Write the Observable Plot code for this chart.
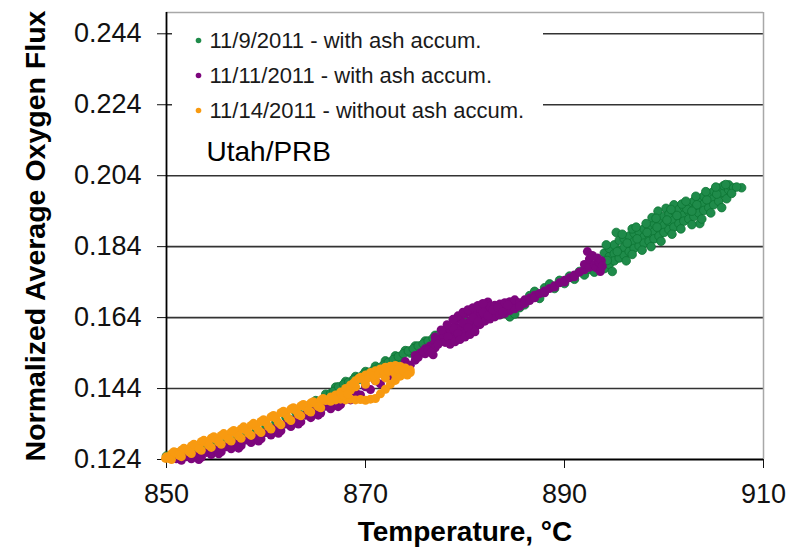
<!DOCTYPE html>
<html>
<head>
<meta charset="utf-8">
<script src="https://cdn.jsdelivr.net/npm/d3@7"></script>
<script src="https://cdn.jsdelivr.net/npm/@observablehq/plot@0.6"></script>
<style>
  html, body { margin: 0; padding: 0; background: #fff; }
  #chart { width: 788px; height: 556px; }
</style>
</head>
<body>
<div id="chart"></div>
<script>
// ---- axis domains and ticks ----
const xDomain = [850, 910];
const yDomain = [0.124, 0.25];
const xTicks = [850, 870, 890, 910];
const yTicks = [0.124, 0.144, 0.164, 0.184, 0.204, 0.224, 0.244];

// ---- series ----
const seriesNames = [
  "11/9/2011 - with ash accum.",
  "11/11/2011 - with ash accum.",
  "11/14/2011 - without ash accum."
];
const seriesColors = ["#1f8b4a", "#7d067d", "#f89a10"];
const noteText = "Utah/PRB";
const xTitle = "Temperature, °C";
const yTitle = "Normalized Average Oxygen Flux";

// [temperature °C, normalized average oxygen flux]
const green = [
[850.0,.1250],[850.5,.1246],[851.0,.1258],[851.5,.1252],[852.0,.1262],[852.5,.1255],[853.0,.1276],[853.5,.1266],[854.0,.1278],[854.5,.1268],
[855.0,.1283],[855.5,.1274],[856.0,.1289],[856.5,.1281],[857.0,.1297],[857.5,.1288],[858.0,.1306],[858.5,.1296],[859.0,.1318],[859.5,.1310],
[860.0,.1332],[860.5,.1323],[861.0,.1345],[861.5,.1336],[862.0,.1360],[862.5,.1352],[863.0,.1373],[863.5,.1366],[864.0,.1390],[864.5,.1384],
[865.0,.1406],[865.5,.1402],[866.0,.1424],[866.5,.1426],[867.0,.1444],[867.5,.1440],[868.0,.1460],[868.5,.1452],[869.0,.1474],[869.5,.1466],
[870.0,.1488],[870.5,.1480],[871.0,.1503],[871.5,.1495],[872.0,.1518],[872.5,.1510],[873.0,.1532],[873.5,.1525],[874.0,.1547],[874.5,.1540],
[875.0,.1560],[875.5,.1553],[876.0,.1574],[876.5,.1566],[877.0,.1590],[877.5,.1582],[878.0,.1602],[878.5,.1597],[879.0,.1614],[879.5,.1608],
[880.0,.1626],[880.5,.1620],[881.0,.1636],[881.5,.1630],[882.0,.1645],[882.5,.1640],[883.0,.1652],[883.5,.1648],[884.0,.1660],[884.5,.1642],
[885.0,.1650],[885.5,.1668],[886.0,.1676],[886.5,.1702],[887.0,.1714],[887.5,.1694],[888.0,.1724],[888.5,.1735],[889.0,.1722],[889.5,.1745],
[890.0,.1736],[890.5,.1757],[891.0,.1748],[891.5,.1770],[892.0,.1760],[892.5,.1776],[893.0,.1768],[893.5,.1790],
[866.8,.1432],[867.3,.1445],[867.8,.1452],[868.3,.1458],[868.8,.1466],[869.3,.1472],[869.8,.1480],[870.3,.1486],[870.8,.1492],[871.3,.1498],
[871.8,.1506],[872.3,.1514],[872.8,.1522],[873.3,.1530],[873.8,.1538],[874.3,.1546],[874.8,.1552],[875.3,.1560],[875.8,.1566],[876.3,.1574],
[876.8,.1582],[877.3,.1590],
[894.0,.1800],[894.0,.1822],[894.0,.1778],[894.5,.1812],[894.5,.1790],[894.5,.1835],[895.0,.1820],[895.0,.1845],[895.0,.1800],[895.2,.1880],
[895.5,.1830],[895.5,.1808],[895.5,.1858],[896.0,.1838],[896.0,.1862],[896.0,.1815],[896.5,.1848],[896.5,.1870],[896.5,.1826],
[897.0,.1855],[897.0,.1835],[897.0,.1878],[897.5,.1860],[897.5,.1882],[897.5,.1842],[898.0,.1868],[898.0,.1890],[898.0,.1850],
[898.5,.1872],[898.5,.1895],[898.5,.1855],[899.0,.1882],[899.0,.1905],[899.0,.1862],[899.4,.1940],[899.5,.1890],[899.5,.1912],[899.5,.1870],
[900.0,.1900],[900.0,.1925],[900.0,.1880],[900.2,.1948],[900.5,.1908],[900.5,.1932],[900.5,.1888],[901.0,.1915],[901.0,.1940],[901.0,.1895],
[901.0,.1958],[901.5,.1922],[901.5,.1945],[901.5,.1905],[902.0,.1930],[902.0,.1952],[902.0,.1912],[902.5,.1938],[902.5,.1960],[902.5,.1918],
[903.0,.1945],[903.0,.1968],[903.0,.1925],[903.5,.1952],[903.5,.1975],[903.6,.1905],[903.5,.1935],[904.0,.1960],[904.0,.1982],[904.0,.1942],
[904.5,.1968],[904.5,.1990],[904.5,.1950],[905.0,.1976],[905.0,.1996],[905.0,.1958],[905.5,.1985],[905.5,.2005],[905.5,.1968],
[906.0,.1992],[906.0,.2012],[906.5,.2000],[906.5,.2014],[907.0,.2006],[907.8,.2006],
[894.3,.1801],[895.3,.1826],[896.3,.1850],[897.3,.1862],[898.3,.1880],[899.3,.1895],[900.3,.1915],[901.3,.1928],[902.3,.1946],
[903.3,.1958],[904.3,.1972],[905.3,.1988],[896.8,.1890],[898.8,.1922],[902.8,.1940],
[894.2,.1845],[894.8,.1770],[895.8,.1875],[896.2,.1800],[896.8,.1818],[897.2,.1895],[897.8,.1830],[898.2,.1905],[898.7,.1840],[899.2,.1920],
[899.7,.1855],[900.7,.1945],[900.8,.1875],[901.8,.1960],[901.7,.1890],[902.2,.1968],[902.8,.1902],[903.2,.1982],[903.8,.1918],[904.2,.1995],
[904.7,.1935],[905.2,.2008],[905.8,.1950],[906.3,.1975],[906.8,.1990],[907.3,.2008],[906.2,.2015]
];

const purple = [
[851.0,.1242],[851.5,.1238],[852.0,.1248],[852.5,.1242],[853.0,.1252],[853.5,.1246],[854.0,.1260],[854.5,.1254],[855.0,.1268],[855.5,.1262],
[856.0,.1276],[856.5,.1270],[857.0,.1285],[857.5,.1279],[858.0,.1295],[858.5,.1288],[859.0,.1305],[859.5,.1298],[860.0,.1316],[860.5,.1309],
[861.0,.1328],[861.5,.1321],[862.0,.1340],[862.5,.1333],[863.0,.1353],[863.5,.1346],[864.0,.1365],[864.5,.1358],[865.0,.1378],[865.5,.1371],
[866.0,.1390],[866.5,.1383],[867.0,.1402],[867.5,.1395],[868.0,.1415],[868.5,.1408],[869.0,.1430],[869.5,.1422],[870.0,.1445],[870.5,.1437],
[871.0,.1462],[871.5,.1453],[872.0,.1480],[872.5,.1470],[873.0,.1498],[873.5,.1490],[874.0,.1516],[874.5,.1506],[875.0,.1533],[875.0,.1520],
[875.5,.1540],[876.0,.1552],[876.0,.1538],[876.5,.1560],[876.8,.1535],[877.0,.1572],[877.0,.1555],[877.0,.1585],[877.5,.1578],
[878.0,.1590],[878.0,.1570],[878.0,.1605],[878.5,.1598],[878.5,.1578],[879.0,.1605],[879.0,.1580],[879.0,.1630],[879.5,.1612],[879.5,.1585],
[879.5,.1640],[880.0,.1622],[880.0,.1595],[880.0,.1650],[880.5,.1630],[880.5,.1600],[880.5,.1655],[881.0,.1638],[881.0,.1612],[881.0,.1660],
[881.5,.1645],[881.5,.1620],[881.5,.1665],[882.0,.1648],[882.0,.1630],[882.0,.1668],[882.3,.1684],[882.5,.1652],[882.5,.1636],[882.5,.1672],
[883.0,.1656],[883.0,.1642],[883.0,.1675],[883.5,.1660],[883.5,.1648],[883.5,.1678],[884.0,.1665],[884.0,.1652],[884.0,.1682],
[884.5,.1670],[884.5,.1660],[884.5,.1685],[885.0,.1677],[885.0,.1665],[885.0,.1690],[885.5,.1682],[885.5,.1672],[886.0,.1690],[886.0,.1680],
[886.5,.1695],[886.5,.1688],[887.0,.1703],[887.0,.1696],[887.5,.1708],[888.0,.1715],[888.0,.1710],[888.5,.1722],[889.0,.1730],[889.0,.1726],
[889.5,.1738],[890.0,.1745],[890.0,.1740],[890.5,.1752],[891.0,.1760],[891.0,.1755],[891.5,.1768],[892.0,.1775],[892.0,.1790],[892.3,.1826],
[892.5,.1782],[892.5,.1805],[892.8,.1815],[893.0,.1790],[893.2,.1780],[893.3,.1808],[893.5,.1795],[893.6,.1770],[893.7,.1800],[893.8,.1785],
[875.3,.1528],[875.8,.1545],[876.3,.1548],[876.6,.1542],[877.3,.1565],[877.8,.1592],[878.3,.1585],[878.8,.1612],[879.3,.1595],[879.8,.1625],
[880.3,.1612],[880.8,.1640],[881.3,.1628],[881.8,.1655],[882.3,.1645],[882.8,.1662],[883.3,.1668],[883.8,.1655],[884.3,.1675],
[878.5,.1565],[879.0,.1572],[879.5,.1578],[880.0,.1585],[880.5,.1592],[881.0,.1600],[879.3,.1645],[879.8,.1655],[880.3,.1662],[880.8,.1668],
[881.3,.1674],[881.8,.1680],[878.8,.1635],[878.2,.1620],[877.6,.1605],
[853.25,.1240],[855.25,.1256],[857.25,.1272],[859.25,.1292],[861.25,.1314],[863.25,.1340],[865.25,.1365],[867.25,.1389]
];

const orange = [
[849.9,.1243],[850.0,.1248],[850.5,.1240],[850.5,.1256],[851.0,.1258],[851.5,.1248],[851.5,.1266],[852.0,.1268],[852.5,.1257],[852.5,.1278],
[853.0,.1278],[853.5,.1266],[853.5,.1290],[854.0,.1288],[854.5,.1274],[854.5,.1300],[855.0,.1297],[855.5,.1283],[855.5,.1308],
[856.0,.1305],[856.5,.1292],[856.5,.1317],[857.0,.1314],[857.5,.1300],[857.5,.1326],[858.0,.1323],[858.5,.1308],[858.5,.1336],
[859.0,.1333],[859.5,.1316],[859.5,.1347],[860.0,.1344],[860.5,.1326],[860.5,.1360],[861.0,.1356],[861.5,.1338],[861.5,.1372],
[862.0,.1368],[862.5,.1350],[862.5,.1382],[863.0,.1378],[863.5,.1363],[863.5,.1391],[864.0,.1388],[864.5,.1374],[864.5,.1399],
[865.0,.1397],[865.5,.1386],[865.5,.1407],[866.0,.1406],[866.5,.1404],[866.5,.1416],
[850.25,.1243],[850.75,.1262],[851.25,.1252],[851.75,.1272],[852.25,.1262],[852.75,.1283],[853.25,.1271],[853.75,.1294],
[854.25,.1280],[854.75,.1304],[855.25,.1289],[855.75,.1313],[856.25,.1297],[856.75,.1322],[857.25,.1306],[857.75,.1332],
[858.25,.1314],[858.75,.1342],[859.25,.1322],[859.75,.1352],[860.25,.1333],[860.75,.1364],[861.25,.1344],[861.75,.1376],
[862.25,.1356],[862.75,.1386],[863.25,.1367],[863.75,.1395],[864.25,.1378],[864.75,.1403],[865.25,.1389],[865.75,.1412],
[867.0,.1408],[867.0,.1422],[867.5,.1410],[867.5,.1430],[868.0,.1408],[868.0,.1440],[868.5,.1410],[868.5,.1450],[868.5,.1436],
[869.0,.1408],[869.0,.1462],[869.0,.1445],[869.5,.1409],[869.5,.1472],[870.0,.1407],[870.0,.1478],[870.0,.1452],[870.5,.1410],[870.5,.1485],
[871.0,.1412],[871.0,.1490],[871.0,.1462],[871.5,.1425],[871.5,.1495],[872.0,.1438],[872.0,.1500],[872.0,.1470],[872.5,.1452],[872.5,.1503],
[873.0,.1463],[873.0,.1505],[873.0,.1480],[873.5,.1475],[873.5,.1502],[874.0,.1485],[874.0,.1498],[874.5,.1492],[874.5,.1485],
[866.8,.1412],[867.8,.1420],[868.2,.1425],[868.8,.1455],[869.3,.1468],[869.8,.1465],[870.3,.1470],[870.8,.1476],[871.3,.1480],
[871.8,.1488],[872.3,.1488],[872.8,.1492],[873.3,.1494],[873.8,.1490],[874.2,.1478]
];

const font = "'Liberation Sans', Arial, Helvetica, sans-serif";
const ML = 166, MR = 25, MT = 12, MB = 97;

const legendMarks = [];
seriesNames.forEach((name, i) => {
  legendMarks.push(Plot.dot([name], {frameAnchor: "top-left", dx: 32, dy: 28 + i * 35, r: 2.8, fill: seriesColors[i]}));
  legendMarks.push(Plot.text([name], {frameAnchor: "top-left", dx: 43, dy: 28 + i * 35, text: d => d,
    textAnchor: "start", lineAnchor: "middle", fontSize: 22, fill: "#1a1a1a"}));
});
legendMarks.push(Plot.text([noteText], {frameAnchor: "top-left", dx: 40, dy: 140, text: d => d,
  textAnchor: "start", lineAnchor: "middle", fontSize: 28, fill: "#000"}));

const chart = Plot.plot({
  width: 788,
  height: 556,
  marginLeft: ML, marginRight: MR, marginTop: MT, marginBottom: MB,
  style: {fontFamily: font, fontSize: "27px", background: "#fff", color: "#111", overflow: "visible"},
  x: {domain: xDomain, ticks: xTicks, tickSize: 9, tickPadding: 15, label: null},
  y: {domain: yDomain, ticks: yTicks, tickFormat: d3.format(".3f"), tickSize: 9, tickPadding: 16, label: null},
  marks: [
    Plot.ruleY(yTicks.slice(1), {stroke: "#333", strokeWidth: 1.6}),
    Plot.ruleY([yDomain[1]], {stroke: "#a8a8a8", strokeWidth: 1.5}),
    Plot.ruleX([xDomain[1]], {stroke: "#a8a8a8", strokeWidth: 1.5}),
    Plot.ruleX([xDomain[0]], {stroke: "#000", strokeWidth: 1.8}),
    Plot.ruleY([yDomain[0]], {stroke: "#000", strokeWidth: 1.8}),
    Plot.dot(green, {x: d => d[0], y: d => d[1], r: 4.3, fill: seriesColors[0], stroke: "#0c7534", strokeWidth: 0.8}),
    Plot.dot(purple, {x: d => d[0], y: d => d[1], r: 4.5, fill: seriesColors[1]}),
    Plot.dot(orange, {x: d => d[0], y: d => d[1], r: 4.5, fill: seriesColors[2]}),
    ...legendMarks,
    Plot.text([yTitle], {frameAnchor: "left", dx: -131, rotate: -90, text: d => d, textAnchor: "middle", lineAnchor: "middle", fontSize: 28.5, fontWeight: "bold", fill: "#000"}),
    Plot.text([xTitle], {frameAnchor: "bottom", dy: 81, text: d => d, textAnchor: "middle", fontSize: 28, fontWeight: "bold", fill: "#000"})
  ]
});

// white legend panel covering the gridlines behind the legend
const svg = chart.tagName.toLowerCase() === "svg" ? chart : chart.querySelector("svg");
const rules = svg.querySelectorAll('g[aria-label="rule"]');
const box = document.createElementNS("http://www.w3.org/2000/svg", "rect");
box.setAttribute("x", ML + 6);
box.setAttribute("y", MT + 2);
box.setAttribute("width", 371);
box.setAttribute("height", 152);
box.setAttribute("fill", "#fff");
if (rules.length) {
  const last = rules[rules.length - 1];
  last.parentNode.insertBefore(box, last.nextSibling);
}
document.getElementById("chart").appendChild(chart);
</script>
</body>
</html>
